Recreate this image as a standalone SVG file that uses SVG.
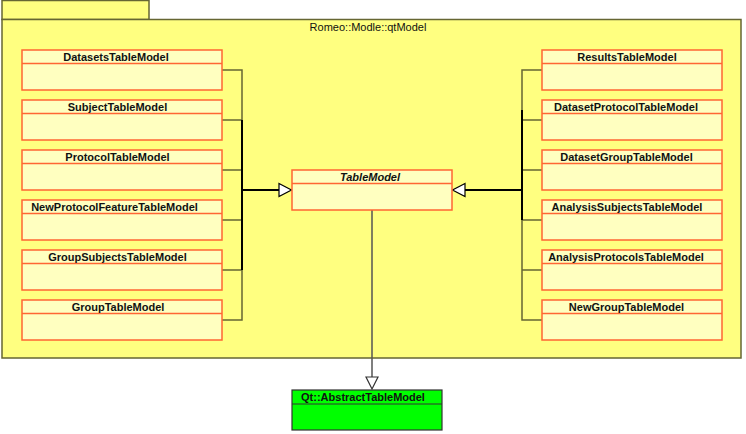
<svg xmlns="http://www.w3.org/2000/svg" width="746" height="434" viewBox="0 0 746 434">
<defs>
<style>
.pkg{fill:#ffff80;stroke:#666633;stroke-width:1.5}
.box{fill:#ffffc0;stroke:#ff6633;stroke-width:1.5}
.qt{fill:#00ff00;stroke:#333333;stroke-width:1.2}
.t{font-family:"Liberation Sans",Arial,sans-serif;font-size:11px;font-weight:bold;fill:#111;text-anchor:middle}
.lbl{font-family:"Liberation Sans",Arial,sans-serif;font-size:11px;fill:#111;text-anchor:middle}
.c{fill:none;stroke:#666633;stroke-width:1.5}
.k{fill:none;stroke:#000;stroke-width:2}
.ah{fill:#fff;stroke:#000;stroke-width:1.2}
</style>
</defs>
<g id="package">
<rect x="2" y="0.5" width="147" height="19" class="pkg"/>
<rect x="2" y="19.5" width="739" height="338.5" class="pkg"/>
<text x="368" y="31" class="lbl">Romeo::Modle::qtModel</text>
</g>
<g id="connectors">
<path class="c" d="M222 70H242V320H222M222 120H242M222 170H242M222 220H242M222 270H242"/>
<path class="k" d="M242 120V270M242 190H279"/>
<polygon class="ah" points="279,183.5 291.5,190 279,196.5"/>
<path class="c" d="M542 70H522V320H542M542 120H522M542 170H522M542 220H522M542 270H522"/>
<path class="k" d="M522 110V220M522 190H465"/>
<polygon class="ah" points="465,183.5 452.5,190 465,196.5"/>
<path fill="none" stroke="#555" stroke-width="1.5" d="M372 210V377"/>
<polygon fill="#fff" stroke="#333" stroke-width="1.2" points="366,377 378,377 372,389"/>
</g>
<g id="DatasetsTableModel"><rect x="22" y="50" width="200" height="40" class="box"/><line x1="22" y1="63.5" x2="222" y2="63.5" stroke="#ff6633" stroke-width="1.5"/><text x="116" y="61" class="t">DatasetsTableModel</text></g>
<g id="SubjectTableModel"><rect x="22" y="100" width="200" height="40" class="box"/><line x1="22" y1="113.5" x2="222" y2="113.5" stroke="#ff6633" stroke-width="1.5"/><text x="117.5" y="111" class="t">SubjectTableModel</text></g>
<g id="ProtocolTableModel"><rect x="22" y="150" width="200" height="40" class="box"/><line x1="22" y1="163.5" x2="222" y2="163.5" stroke="#ff6633" stroke-width="1.5"/><text x="117.5" y="161" class="t">ProtocolTableModel</text></g>
<g id="NewProtocolFeatureTableModel"><rect x="22" y="200" width="200" height="40" class="box"/><line x1="22" y1="213.5" x2="222" y2="213.5" stroke="#ff6633" stroke-width="1.5"/><text x="114.5" y="211" class="t">NewProtocolFeatureTableModel</text></g>
<g id="GroupSubjectsTableModel"><rect x="22" y="250" width="200" height="40" class="box"/><line x1="22" y1="263.5" x2="222" y2="263.5" stroke="#ff6633" stroke-width="1.5"/><text x="117.5" y="261" class="t">GroupSubjectsTableModel</text></g>
<g id="GroupTableModel"><rect x="22" y="300" width="200" height="40" class="box"/><line x1="22" y1="313.5" x2="222" y2="313.5" stroke="#ff6633" stroke-width="1.5"/><text x="118" y="311" class="t">GroupTableModel</text></g>
<g id="ResultsTableModel"><rect x="542" y="50" width="180" height="40" class="box"/><line x1="542" y1="63.5" x2="722" y2="63.5" stroke="#ff6633" stroke-width="1.5"/><text x="627" y="61" class="t">ResultsTableModel</text></g>
<g id="DatasetProtocolTableModel"><rect x="542" y="100" width="180" height="40" class="box"/><line x1="542" y1="113.5" x2="722" y2="113.5" stroke="#ff6633" stroke-width="1.5"/><text x="626" y="111" class="t">DatasetProtocolTableModel</text></g>
<g id="DatasetGroupTableModel"><rect x="542" y="150" width="180" height="40" class="box"/><line x1="542" y1="163.5" x2="722" y2="163.5" stroke="#ff6633" stroke-width="1.5"/><text x="626.5" y="161" class="t">DatasetGroupTableModel</text></g>
<g id="AnalysisSubjectsTableModel"><rect x="542" y="200" width="180" height="40" class="box"/><line x1="542" y1="213.5" x2="722" y2="213.5" stroke="#ff6633" stroke-width="1.5"/><text x="627" y="211" class="t">AnalysisSubjectsTableModel</text></g>
<g id="AnalysisProtocolsTableModel"><rect x="542" y="250" width="180" height="40" class="box"/><line x1="542" y1="263.5" x2="722" y2="263.5" stroke="#ff6633" stroke-width="1.5"/><text x="626" y="261" class="t">AnalysisProtocolsTableModel</text></g>
<g id="NewGroupTableModel"><rect x="542" y="300" width="180" height="40" class="box"/><line x1="542" y1="313.5" x2="722" y2="313.5" stroke="#ff6633" stroke-width="1.5"/><text x="626.5" y="311" class="t">NewGroupTableModel</text></g>
<g id="TableModel"><rect x="292" y="170" width="160" height="40" class="box"/><line x1="292" y1="183.5" x2="452" y2="183.5" stroke="#ff6633" stroke-width="1.5"/><text x="370" y="181" class="t" font-style="italic">TableModel</text></g>
<g id="AbstractTableModel"><rect x="292" y="390" width="150" height="40" class="qt"/><line x1="292" y1="404" x2="442" y2="404" stroke="#333" stroke-width="1.2"/><text x="363" y="401" class="t">Qt::AbstractTableModel</text></g>
</svg>
